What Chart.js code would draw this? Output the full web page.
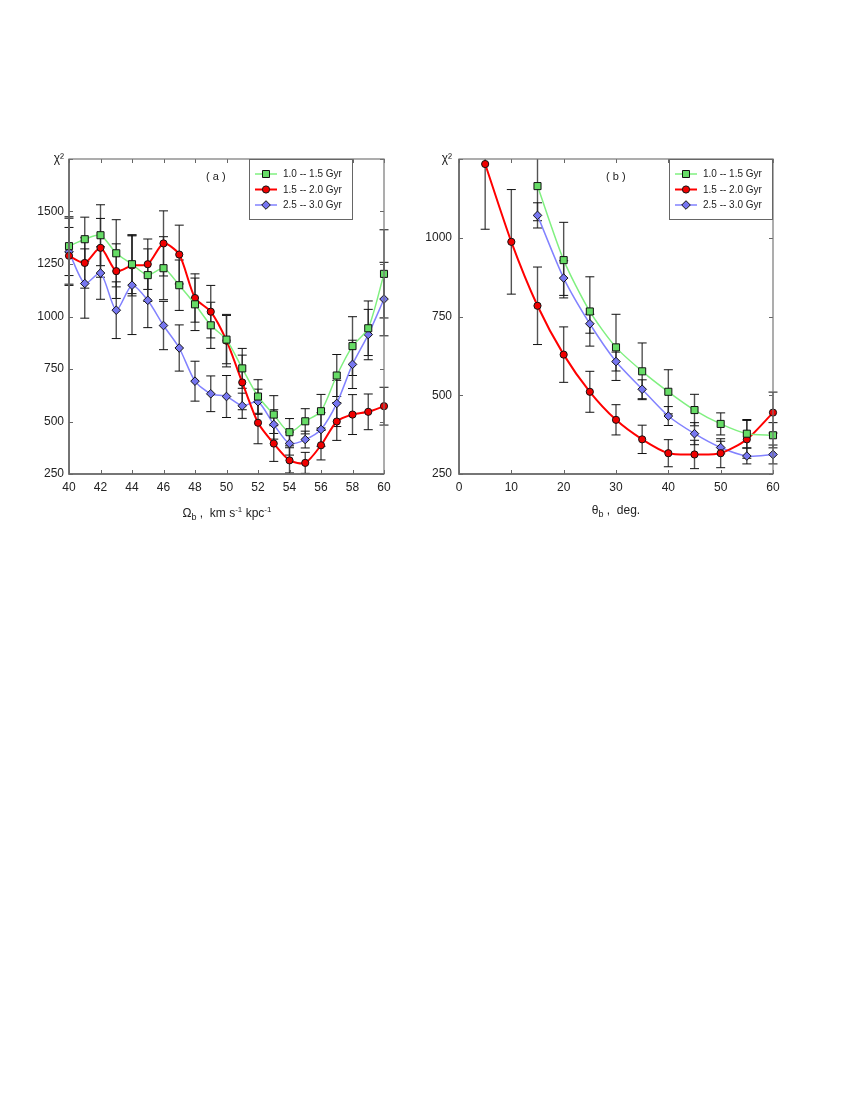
<!DOCTYPE html>
<html>
<head>
<meta charset="utf-8">
<script src="https://cdn.jsdelivr.net/npm/chart.js@4.4.0/dist/chart.umd.min.js"></script>
<style>
body { margin: 0; background: #fff; width: 850px; height: 1100px; position: relative; font-family: "Liberation Sans", Arial, sans-serif; }
.panel { position: absolute; }
.xtitle { position: absolute; font-size: 12px; color: #222; white-space: nowrap; transform: translateX(-50%); line-height: 14px; }
.xtitle sub { font-size: 9px; vertical-align: -3px; }
.xtitle sup { font-size: 8px; vertical-align: 5px; }
</style>
</head>
<body>
<div class="panel" style="left:0px;top:140px;width:420px;height:380px"><canvas id="chartA" width="420" height="380"></canvas></div>
<div class="panel" style="left:420px;top:140px;width:430px;height:380px"><canvas id="chartB" width="430" height="380"></canvas></div>
<div class="xtitle" style="left:227px;top:503px">&Omega;<sub>b</sub> ,&nbsp; km s<sup>-1</sup> kpc<sup>-1</sup></div>
<div class="xtitle" style="left:616px;top:503px">&theta;<sub>b</sub> ,&nbsp; deg.</div>
<script>
// panel (a): chi^2 vs pattern speed
var omega = [40, 41, 42, 43, 44, 45, 46, 47, 48, 49, 50, 51, 52, 53, 54, 55, 56, 57, 58, 59, 60];
var a_green = [1335, 1368, 1387, 1301, 1249, 1197, 1230, 1149, 1058, 958, 890, 753, 619, 533, 449, 501, 549, 719, 859, 944, 1203];
var a_green_err = [140, 105, 145, 160, 140, 125, 150, 120, 125, 110, 115, 95, 80, 90, 65, 60, 80, 100, 140, 130, 210];
var a_red = [1289, 1255, 1327, 1216, 1243, 1249, 1348, 1295, 1088, 1023, 885, 686, 494, 395, 315, 303, 387, 500, 533, 546, 573];
var a_red_err = [135, 120, 140, 130, 145, 120, 155, 140, 115, 125, 125, 130, 100, 85, 60, 50, 70, 90, 95, 85, 90];
var a_blue = [1308, 1157, 1207, 1030, 1149, 1077, 957, 850, 692, 632, 619, 575, 594, 486, 395, 414, 462, 586, 772, 914, 1083];
var a_blue_err = [160, 165, 125, 135, 235, 130, 115, 110, 95, 85, 100, 60, 60, 70, 55, 40, 80, 110, 115, 120, 175];

// panel (b): chi^2 vs bar angle
var theta = [5, 10, 15, 20, 25, 30, 35, 40, 45, 50, 55, 60];
var b_green = [null, null, 1164, 929, 766, 652, 576, 511, 453, 409, 378, 373];
var b_green_err = [null, null, 110, 120, 110, 105, 90, 70, 50, 35, 45, 40];
var b_red = [1234, 987, 784, 629, 511, 422, 360, 316, 312, 316, 360, 445];
var b_red_err = [207, 166, 123, 88, 65, 48, 45, 43, 45, 46, 60, 65];
var b_blue = [null, null, 1071, 872, 727, 607, 519, 434, 378, 334, 307, 312];
var b_blue_err = [null, null, 40, 55, 30, 30, 30, 30, 35, 20, 25, 30];

var seriesNames = ['1.0 -- 1.5 Gyr', '1.5 -- 2.0 Gyr', '2.5 -- 3.0 Gyr'];

var FONT = '"Liberation Sans", Arial, sans-serif';

function points(xs, ys, es) {
    var out = [];
    xs.forEach(function(x, i) {
        if (ys[i] !== null) out.push({ x: x, y: ys[i], err: es[i] });
    });
    return out;
}

var styles = [
    { line: 'rgb(128,240,128)', fill: 'rgb(102,220,102)', shape: 'rect', radius: 5, width: 1.5 },
    { line: 'rgb(255,0,0)', fill: 'rgb(240,0,0)', shape: 'circle', radius: 3.6, width: 2 },
    { line: 'rgb(130,130,255)', fill: 'rgb(118,118,240)', shape: 'rectRot', radius: 4.3, width: 1.5 }
];

function makeDatasets(sets) {
    return sets.map(function(data, i) {
        var s = styles[i];
        return {
            label: seriesNames[i],
            data: data,
            borderColor: s.line,
            borderWidth: s.width,
            backgroundColor: s.fill,
            pointStyle: s.shape,
            pointRadius: s.radius,
            pointBackgroundColor: s.fill,
            pointBorderColor: '#111',
            pointBorderWidth: 1,
            tension: 0.25,
            clip: 8,
            fill: false
        };
    });
}

// error bars, frame with inside ticks, boxed legend and panel tag
var decorPlugin = {
    id: 'decor',
    beforeDatasetsDraw: function(chart) {
        var ctx = chart.ctx, ca = chart.chartArea, xs = chart.scales.x, ys = chart.scales.y;
        ctx.save();
        ctx.beginPath();
        ctx.rect(ca.left - 6, ca.top, ca.right - ca.left + 12, ca.bottom - ca.top);
        ctx.clip();
        chart.data.datasets.forEach(function(ds) {
            ds.data.forEach(function(p) {
                var px = xs.getPixelForValue(p.x);
                var top = ys.getPixelForValue(p.y + p.err);
                var bot = ys.getPixelForValue(p.y - p.err);
                ctx.strokeStyle = 'rgba(40,40,40,0.8)';
                ctx.lineWidth = 1.4;
                ctx.beginPath();
                ctx.moveTo(px, top); ctx.lineTo(px, bot);
                ctx.stroke();
                ctx.strokeStyle = '#111';
                ctx.lineWidth = 1;
                ctx.beginPath();
                ctx.moveTo(px - 4.5, top); ctx.lineTo(px + 4.5, top);
                ctx.moveTo(px - 4.5, bot); ctx.lineTo(px + 4.5, bot);
                ctx.stroke();
            });
        });
        ctx.restore();
    },
    afterDraw: function(chart, args, opts) {
        var ctx = chart.ctx, ca = chart.chartArea, xs = chart.scales.x, ys = chart.scales.y;
        ctx.save();
        // inner tick marks on all four sides
        ctx.strokeStyle = '#666';
        ctx.lineWidth = 1;
        ctx.beginPath();
        xs.ticks.forEach(function(t) {
            var px = Math.round(xs.getPixelForValue(t.value)) + 0.5;
            ctx.moveTo(px, ca.bottom); ctx.lineTo(px, ca.bottom - 4);
            ctx.moveTo(px, ca.top); ctx.lineTo(px, ca.top + 4);
        });
        ys.ticks.forEach(function(t) {
            var py = Math.round(ys.getPixelForValue(t.value)) + 0.5;
            ctx.moveTo(ca.left, py); ctx.lineTo(ca.left + 4, py);
            ctx.moveTo(ca.right, py); ctx.lineTo(ca.right - 4, py);
        });
        ctx.stroke();
        // frame
        ctx.strokeStyle = '#777';
        ctx.lineWidth = 1.2;
        ctx.strokeRect(ca.left, ca.top, ca.right - ca.left, ca.bottom - ca.top);
        ctx.lineWidth = 1.6;
        ctx.strokeStyle = '#666';
        ctx.beginPath();
        ctx.moveTo(ca.left, ca.top); ctx.lineTo(ca.left, ca.bottom); ctx.lineTo(ca.right, ca.bottom);
        ctx.stroke();

        // panel tag
        ctx.fillStyle = '#222';
        ctx.font = '11px ' + FONT;
        ctx.textBaseline = 'middle';
        ctx.textAlign = 'left';
        ctx.fillText(opts.tag, ca.left + opts.tagX, ca.top + 18);

        // legend box
        var bx = opts.legendRight ? ca.right - 104 : ca.left + opts.legendX;
        var by = ca.top, bw = 104, bh = 61;
        ctx.fillStyle = '#fff';
        ctx.fillRect(bx, by, bw, bh);
        ctx.strokeStyle = '#666';
        ctx.lineWidth = 1;
        ctx.strokeRect(bx + 0.5, by + 0.5, bw - 1, bh - 1);
        chart.data.datasets.forEach(function(ds, i) {
            var s = styles[i];
            var ry = by + 15 + i * 15.5;
            ctx.strokeStyle = s.line;
            ctx.lineWidth = s.width;
            ctx.beginPath();
            ctx.moveTo(bx + 6, ry); ctx.lineTo(bx + 28, ry);
            ctx.stroke();
            var mx = bx + 17;
            ctx.fillStyle = s.fill;
            ctx.strokeStyle = '#111';
            ctx.lineWidth = 1;
            ctx.beginPath();
            if (s.shape === 'rect') {
                ctx.rect(mx - 3.5, ry - 3.5, 7, 7);
            } else if (s.shape === 'circle') {
                ctx.arc(mx, ry, 3.6, 0, Math.PI * 2);
            } else {
                ctx.moveTo(mx, ry - 4.3); ctx.lineTo(mx + 4.3, ry);
                ctx.lineTo(mx, ry + 4.3); ctx.lineTo(mx - 4.3, ry);
                ctx.closePath();
            }
            ctx.fill();
            ctx.stroke();
            ctx.fillStyle = '#222';
            ctx.font = '10px ' + FONT;
            ctx.textAlign = 'left';
            ctx.fillText(ds.label, bx + 34, ry + 0.5);
        });
        ctx.restore();
    }
};

function makeChart(id, datasets, xMin, xMax, xStep, yMax, yAxisWidth, padRight, tagCfg) {
    var ctx = document.getElementById(id).getContext('2d');
    return new Chart(ctx, {
        type: 'line',
        data: { datasets: datasets },
        plugins: [decorPlugin],
        options: {
            responsive: false,
            animation: false,
            layout: { padding: { left: 0, top: 19, right: padRight, bottom: 0 } },
            plugins: {
                legend: { display: false },
                tooltip: { enabled: false },
                decor: tagCfg
            },
            scales: {
                x: {
                    type: 'linear',
                    min: xMin,
                    max: xMax,
                    grid: { display: false, drawTicks: false },
                    border: { display: false },
                    ticks: {
                        stepSize: xStep,
                        autoSkip: false,
                        maxRotation: 0,
                        padding: 6,
                        color: '#222',
                        font: { family: FONT, size: 12 }
                    },
                    afterFit: function(scale) { scale.height = 46; }
                },
                y: {
                    min: 250,
                    max: yMax,
                    grid: { display: false, drawTicks: false },
                    border: { display: false },
                    ticks: {
                        stepSize: 250,
                        padding: tagCfg.yPad,
                        color: '#222',
                        font: { family: FONT, size: 12 },
                        callback: function(v) { return v === yMax ? 'χ²' : v; }
                    },
                    afterFit: function(scale) { scale.width = yAxisWidth; }
                }
            }
        }
    });
}

var dsA = makeDatasets([
    points(omega, a_green, a_green_err),
    points(omega, a_red, a_red_err),
    points(omega, a_blue, a_blue_err)
]);
var dsB = makeDatasets([
    points(theta, b_green, b_green_err),
    points(theta, b_red, b_red_err),
    points(theta, b_blue, b_blue_err)
]);

makeChart('chartA', dsA, 40, 60, 2, 1750, 69, 36, { tag: '( a )', tagX: 137, legendX: 180, legendRight: false, yPad: 5 });
makeChart('chartB', dsB, 0, 60, 10, 1250, 39, 77, { tag: '( b )', tagX: 147, legendRight: true, yPad: 7 });
</script>
</body>
</html>
